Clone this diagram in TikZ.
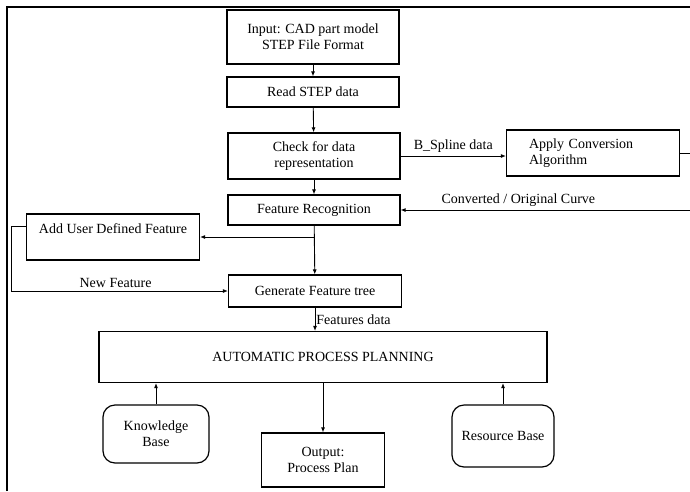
\documentclass[tikz,border=0pt]{standalone}
\usepackage{fontspec}
\setmainfont{Liberation Serif}
\usetikzlibrary{positioning,arrows.meta}

\begin{document}
\begin{tikzpicture}[x=1pt, y=-1pt, >={Latex[length=5pt,width=4pt]}, line width=0.9pt,
    font=\fontsize{14}{16}\selectfont,
    block/.style={rectangle, draw, line width=1.2pt, align=center},
    base/.style={block, rounded corners=12pt}]
        \useasboundingbox (0,0) rectangle (690,491);
        % Frame
        \draw[line width=1.3pt] (7,491) -- (7,7) -- (690,7);
        % Nodes
        \node (input) [block, minimum width=172, minimum height=54] at (313,37) {Input: CAD part model\\STEP File Format};
        \node (read) [block, minimum width=172, minimum height=30] at (313,92) {Read STEP data};
        \node (check) [block, minimum width=172, minimum height=46] at (314,156) {Check for data\\representation};
        \node (featrec) [block, minimum width=172, minimum height=30] at (314,210) {Feature Recognition};
        \node (apply) [block, align=left, text width=128, minimum width=173, minimum height=46] at (593,153) {Apply Conversion\\Algorithm};
        \node (adduser) [block, minimum width=173, minimum height=46] at (113,237) {Add User Defined Feature\\ \mbox{}};
        \node (gen) [block, minimum width=173, minimum height=32] at (315,291) {Generate Feature tree};
        \node (auto) [block, minimum width=448, minimum height=51] at (323,357) {AUTOMATIC PROCESS PLANNING};
        \node (know) [base, minimum width=106, minimum height=58] at (156,434) {Knowledge\\Base};
        \node (output) [block, minimum width=123, minimum height=54] at (323,460) {Output:\\Process Plan};
        \node (resource) [base, minimum width=102, minimum height=62] at (503,436) {Resource Base};
        % Arrow
        \draw[->] (input) -- (read);
        \draw[->] (read) -- (check);
        \draw[->] (check) -- (featrec);
        \draw[->] (check.east) -- (check.east -| apply.west) node[midway, above] {B\_Spline data};
        \draw[->] (apply.east) -- ++(15,0) |- (featrec.east) node[pos=0.8, above] {Converted / Original Curve};
        \draw[->] (featrec) -- (gen);
        \draw[->] (featrec.south |- adduser.east) -- (adduser.east);
        \draw[->] ([yshift=11]adduser.west) -- ++(-14,0) |- (gen.west) node[pos=0.74, above] {New Feature};
        \draw[->] (gen.south) -- (gen.south |- auto.north) node[midway, right, inner sep=1pt] {Features data};
        \draw[->] (know) -- (know.north |- auto.south);
        \draw[->] (resource) -- (resource.north |- auto.south);
        \draw[->] (output.north |- auto.south) -- (output);
      \end{tikzpicture}
\end{document}
